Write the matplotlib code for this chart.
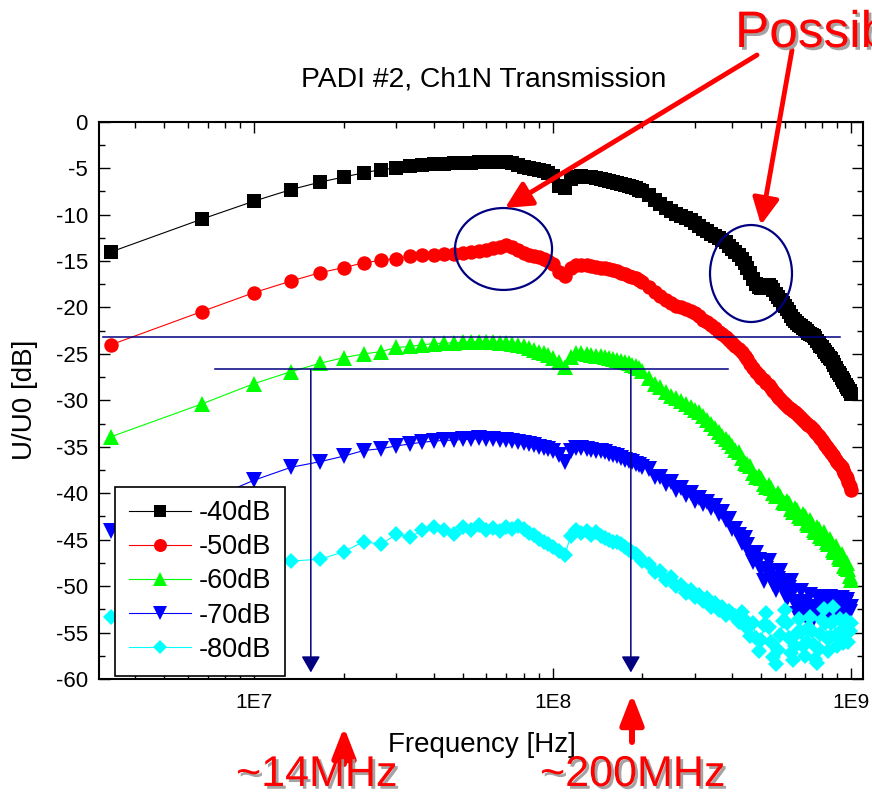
import matplotlib
matplotlib.use('Agg')
import matplotlib.pyplot as plt
import numpy as np
from matplotlib.patches import Ellipse, FancyArrowPatch
import matplotlib.patheffects as pe
from matplotlib.ticker import FixedLocator, FixedFormatter, LogLocator, NullFormatter, MultipleLocator, FormatStrFormatter

plt.rcParams['font.family'] = ['Liberation Sans', 'DejaVu Sans']
plt.rcParams['axes.unicode_minus'] = False

# ---------------- data ----------------
freq_mhz = [3.33, 6.67, 10.0, 13.33, 16.67, 20.0, 23.33, 26.67, 30.0, 33.33,
            36.67, 40.0, 43.33, 46.67, 50.0, 53.33, 56.67, 60.0, 63.33, 66.67,
            70.0, 73.33, 76.67, 80.0, 83.33, 86.67, 90.0, 93.33, 96.67, 100.0,
            105, 110, 115, 120, 125, 130, 135, 140, 145, 150,
            155, 160, 165, 170, 175, 180, 185, 190, 195, 200,
            210, 220, 230, 240, 250, 260, 270, 280, 290, 300,
            310, 320, 330, 340, 350, 360, 370, 380, 390, 400,
            410, 420, 430, 440, 450, 460, 470, 480, 490, 500,
            510, 520, 530, 540, 550, 560, 570, 580, 590, 600,
            610, 620, 630, 640, 650, 660, 670, 680, 690, 700,
            710, 720, 730, 740, 750, 760, 770, 780, 790, 800,
            810, 820, 830, 840, 850, 860, 870, 880, 890, 900,
            910, 920, 930, 940, 950, 960, 970, 980, 990, 1000]

s40 = [-14.0, -10.5, -8.55, -7.3, -6.5, -5.95, -5.5, -5.15, -5.0, -4.8,
       -4.7, -4.6, -4.55, -4.5, -4.45, -4.4, -4.35, -4.3, -4.3, -4.3,
       -4.35, -4.5, -4.7, -4.85, -5.0, -5.1, -5.2, -5.3, -5.5, -5.8,
       -6.9, -7.1, -6.2, -5.9, -5.85, -5.9, -6.0, -6.1, -6.2, -6.3,
       -6.4, -6.5, -6.6, -6.7, -6.8, -6.9, -7.0, -7.1, -7.3, -7.5,
       -7.9, -8.4, -8.9, -9.3, -9.6, -9.9, -10.2, -10.4, -10.6, -10.9,
       -11.2, -11.5, -11.8, -12.1, -12.3, -12.5, -12.7, -13.0, -13.4, -13.7,
       -14.0, -14.4, -14.8, -15.2, -15.7, -16.3, -16.9, -17.5, -17.8, -17.9,
       -17.7, -17.6, -17.6, -17.8, -18.1, -18.5, -18.9, -19.2, -19.5, -19.8,
       -20.2, -20.5, -20.9, -21.2, -21.5, -21.7, -21.9, -22.0, -22.2, -22.3,
       -22.5, -22.7, -22.9, -23.0, -23.1, -23.3, -23.6, -23.8, -24.1, -24.3,
       -24.6, -24.8, -25.0, -25.2, -25.4, -25.6, -25.9, -26.2, -26.5, -26.8,
       -27.1, -27.3, -27.6, -27.8, -28.0, -28.3, -28.6, -28.8, -29.0, -29.3]

s50 = [-24.0, -20.45, -18.4, -17.15, -16.25, -15.7, -15.2, -14.9, -14.75, -14.5,
       -14.4, -14.35, -14.25, -14.2, -14.1, -14.0, -13.9, -13.8, -13.65, -13.45,
       -13.3, -13.5, -13.8, -14.1, -14.35, -14.5, -14.6, -14.8, -15.0, -15.3,
       -16.2, -16.6, -15.7, -15.45, -15.4, -15.45, -15.5, -15.6, -15.7, -15.8,
       -15.9, -16.0, -16.1, -16.3, -16.45, -16.6, -16.7, -16.8, -17.0, -17.3,
       -17.8, -18.3, -18.8, -19.2, -19.5, -19.8, -20.0, -20.2, -20.4, -20.6,
       -20.9, -21.3, -21.6, -21.9, -22.2, -22.6, -22.9, -23.2, -23.5, -23.8,
       -24.1, -24.5, -24.8, -25.2, -25.6, -26.1, -26.5, -26.9, -27.3, -27.6,
       -27.8, -28.1, -28.4, -28.7, -29.0, -29.3, -29.6, -29.9, -30.2, -30.4,
       -30.6, -30.8, -30.9, -31.1, -31.3, -31.5, -31.7, -31.9, -32.1, -32.3,
       -32.5, -32.7, -32.8, -33.0, -33.2, -33.4, -33.6, -33.8, -34.0, -34.3,
       -34.6, -34.8, -35.0, -35.2, -35.5, -35.7, -35.9, -36.1, -36.4, -36.6,
       -36.8, -37.0, -37.2, -37.5, -37.8, -38.1, -38.4, -38.8, -39.2, -39.6]

s60 = [-33.9, -30.4, -28.2, -26.9, -26.0, -25.4, -25.0, -24.75, -24.3, -24.2,
       -24.0, -23.9, -23.85, -23.8, -23.75, -23.7, -23.7, -23.7, -23.75, -23.8,
       -23.85, -23.9, -24.0, -24.2, -24.4, -24.6, -24.8, -24.95, -25.1, -25.4,
       -25.9, -26.4, -25.3, -24.9, -24.9, -25.0, -25.1, -25.2, -25.25, -25.3,
       -25.45, -25.6, -25.7, -25.8, -25.9, -26.0, -26.2, -26.3, -26.5, -26.8,
       -27.6, -28.2, -28.6, -29.1, -29.5, -29.8, -30.1, -30.4, -30.7, -31.0,
       -31.3, -31.7, -32.1, -32.5, -33.0, -33.4, -33.8, -34.2, -34.5, -34.9,
       -35.3, -35.6, -36.2, -36.7, -36.8, -37.1, -37.8, -38.2, -38.1, -38.4,
       -39.0, -39.3, -39.1, -39.4, -40.0, -40.3, -40.0, -40.3, -40.9, -41.1,
       -40.8, -41.1, -41.7, -42.0, -41.6, -41.8, -42.5, -42.7, -42.2, -42.5,
       -43.2, -43.4, -42.9, -43.3, -44.0, -44.2, -43.6, -43.9, -44.6, -44.8,
       -44.2, -44.6, -45.3, -45.5, -44.9, -45.4, -46.1, -46.3, -45.7, -46.2,
       -46.9, -47.1, -46.5, -47.0, -47.8, -48.0, -47.5, -48.2, -48.9, -49.3]

s70 = [-44.1, -41.0, -38.6, -37.2, -36.6, -36.0, -35.4, -35.2, -34.9, -34.7,
       -34.5, -34.4, -34.3, -34.3, -34.2, -34.2, -34.1, -34.2, -34.2, -34.3,
       -34.3, -34.4, -34.5, -34.6, -34.7, -34.8, -35.0, -35.1, -35.2, -35.4,
       -35.9, -36.6, -35.5, -35.1, -35.1, -35.2, -35.3, -35.4, -35.5, -35.6,
       -35.8, -35.9, -36.0, -36.2, -36.4, -36.5, -36.6, -36.8, -37.0, -37.2,
       -37.4, -38.3, -38.2, -39.0, -38.8, -39.6, -39.4, -40.2, -40.0, -40.8,
       -40.5, -41.2, -40.9, -41.6, -41.4, -42.2, -42.0, -42.9, -42.8, -43.8,
       -43.9, -44.5, -45.4, -44.8, -45.6, -46.6, -47.4, -46.4, -47.2, -48.3,
       -49.4, -48.2, -47.3, -48.5, -49.8, -50.4, -49.2, -48.4, -49.6, -50.7,
       -51.4, -50.2, -49.4, -50.6, -51.9, -53.0, -51.8, -50.5, -51.7, -53.1,
       -53.5, -52.2, -51.0, -52.3, -53.4, -52.2, -51.2, -52.4, -53.4, -52.3,
       -51.3, -52.5, -53.3, -52.1, -51.2, -52.3, -53.1, -52.0, -51.3, -52.4,
       -53.0, -51.9, -51.3, -52.4, -52.9, -51.8, -51.5, -52.5, -52.8, -52.2]

s80 = [-53.3, -49.5, -48.0, -47.3, -47.1, -46.3, -45.2, -45.5, -44.4, -44.7,
       -44.0, -43.6, -44.0, -44.4, -43.6, -44.0, -43.4, -44.0, -43.7, -44.1,
       -43.6, -43.9, -43.5, -43.8, -44.3, -44.5, -44.9, -45.2, -45.5, -45.8,
       -46.2, -46.7, -44.6, -44.0, -44.3, -44.1, -44.5, -44.2, -44.6, -44.8,
       -45.0, -45.2, -45.3, -45.5, -45.8, -46.1, -46.3, -46.5, -46.9, -47.3,
       -47.6, -48.5, -48.4, -49.3, -49.0, -50.0, -49.9, -50.7, -50.4, -51.2,
       -51.0, -51.6, -51.3, -52.2, -51.8, -52.6, -52.3, -53.1, -52.7, -53.0,
       -53.2, -53.9, -52.8, -53.6, -54.5, -55.4, -54.0, -55.6, -57.0, -55.8,
       -54.2, -52.9, -54.4, -56.0, -57.6, -58.4, -56.9, -55.3, -53.8, -52.6,
       -54.0, -55.6, -57.2, -58.0, -56.5, -55.0, -53.5, -54.9, -56.4, -57.5,
       -56.0, -54.5, -53.3, -54.8, -56.3, -57.8, -58.3, -56.8, -55.2, -53.7,
       -52.5, -54.0, -55.6, -57.0, -55.5, -54.0, -52.3, -53.8, -55.3, -56.5,
       -55.0, -53.5, -54.8, -56.1, -55.0, -53.6, -54.9, -56.0, -54.8, -54.0]

series = [s40, s50, s60, s70, s80]
labels = ['-40dB', '-50dB', '-60dB', '-70dB', '-80dB']
colors = ['#000000', '#ff0000', '#00ff00', '#0000ff', '#00ffff']
markers = ['s', 'o', '^', 'v', 'D']
msizes = [9.6, 10.4, 11.3, 11.3, 8.4]

x_ticks = [1e7, 1e8, 1e9]
x_ticklabels = ['1E7', '1E8', '1E9']

# annotation levels
ref_level_1 = -23.2
ref_level_2 = -26.65
line1_span = (3.12e6, 9.17e8)
line2_span = (7.4e6, 3.86e8)
f_low = 1.55e7
f_high = 1.83e8
arrow_bottom = -59.3

# ---------------- figure ----------------
W, H = 872, 796
fig = plt.figure(figsize=(W / 100, H / 100), dpi=100)
ax = fig.add_axes([99 / W, (H - 679) / H, (863 - 99) / W, (679 - 121.7) / H])

freq = np.array(freq_mhz) * 1e6
for vals, lab, c, m, ms in zip(series, labels, colors, markers, msizes):
    ax.plot(freq, vals, color=c, marker=m, ms=ms, mew=0, lw=0.8, label=lab)

ax.set_xscale('log')
ax.set_xlim(3.025e6, 1.097e9)
ax.set_ylim(-60, 0)

ax.xaxis.set_major_locator(FixedLocator(x_ticks))
ax.xaxis.set_major_formatter(FixedFormatter(x_ticklabels))
ax.xaxis.set_minor_locator(LogLocator(base=10, subs=np.arange(2, 10), numticks=20))
ax.xaxis.set_minor_formatter(NullFormatter())
ax.yaxis.set_major_locator(MultipleLocator(5))
ax.yaxis.set_minor_locator(MultipleLocator(2.5))
ax.yaxis.set_major_formatter(FormatStrFormatter('%d'))

ax.tick_params(which='both', direction='in', top=True, right=True, width=1.0)
ax.tick_params(which='major', length=8)
ax.tick_params(which='minor', length=4)
ax.tick_params(axis='x', which='major', labelsize=15, pad=10)
ax.tick_params(axis='y', which='major', labelsize=16, pad=8)
for sp in ax.spines.values():
    sp.set_linewidth(1.5)

navy = '#000080'
ax.plot(line1_span, [ref_level_1, ref_level_1], color=navy, lw=1.1, zorder=6)
ax.plot(line2_span, [ref_level_2, ref_level_2], color=navy, lw=1.1, zorder=6)
for fx in (f_low, f_high):
    ax.annotate('', xy=(fx, arrow_bottom), xytext=(fx, ref_level_2),
                arrowprops=dict(arrowstyle='-|>,head_length=0.4,head_width=0.23',
                                color=navy, lw=1.1, mutation_scale=25,
                                shrinkA=0, shrinkB=0), zorder=6)

ax.add_patch(Ellipse((0.5295, 0.7716), 0.127, 0.147, transform=ax.transAxes,
                     fill=False, edgecolor=navy, lw=1.6, zorder=7))
ax.add_patch(Ellipse((0.8534, 0.7276), 0.1073, 0.174, transform=ax.transAxes,
                     fill=False, edgecolor=navy, lw=1.6, zorder=7))

leg = ax.legend(loc='lower left', bbox_to_anchor=(0.021, 0.005), frameon=True,
                fancybox=False, edgecolor='black', framealpha=1, fontsize=19.5,
                handlelength=2.3, handletextpad=0.3, labelspacing=0.3,
                borderpad=0.5, borderaxespad=0, markerscale=0.9)
leg.get_frame().set_linewidth(1.2)
leg.set_zorder(10)

fig.text(484 / W, 1 - 80 / H, 'PADI #2, Ch1N Transmission', fontsize=20.3,
         ha='center', va='center')
fig.text(482 / W, 1 - 745 / H, 'Frequency [Hz]', fontsize=20,
         ha='center', va='center')
fig.text(25 / W, 1 - 400 / H, 'U/U0 [dB]', fontsize=20, rotation=90,
         ha='center', va='center')

# red annotations (figure pixel coords, origin bottom-left)
shadow = [pe.withSimplePatchShadow(offset=(2, -2), shadow_rgbFace='#9a9a9a', alpha=0.9)]
fig.text(735 / W, 1 - 47 / H, 'Possib', fontsize=37, color='red',
         ha='left', va='baseline', path_effects=shadow)
fig.text(236 / W, 1 - 786 / H, '~14MHz', fontsize=31, color='red',
         ha='left', va='baseline', path_effects=shadow)
fig.text(540 / W, 1 - 786 / H, '~200MHz', fontsize=31, color='red',
         ha='left', va='baseline', path_effects=shadow)

red_arrow = dict(arrowstyle='-|>,head_length=0.8,head_width=0.4', color='red',
                 lw=3.5, mutation_scale=20, shrinkA=0, shrinkB=0)
fig.add_artist(FancyArrowPatch((757, H - 55), (505, H - 208),
               transform=None, **red_arrow))
fig.add_artist(FancyArrowPatch((792, H - 50), (761, H - 225),
               transform=None, **red_arrow))
up_arrow = dict(arrowstyle='-|>,head_length=0.9,head_width=0.35', color='red',
                lw=4.3, mutation_scale=20, shrinkA=0, shrinkB=0)
fig.add_artist(FancyArrowPatch((344, H - 764), (344, H - 727),
               transform=None, **up_arrow))
fig.add_artist(FancyArrowPatch((632, H - 742), (632, H - 694),
               transform=None, **up_arrow))

fig.savefig('out.png', dpi=100)
